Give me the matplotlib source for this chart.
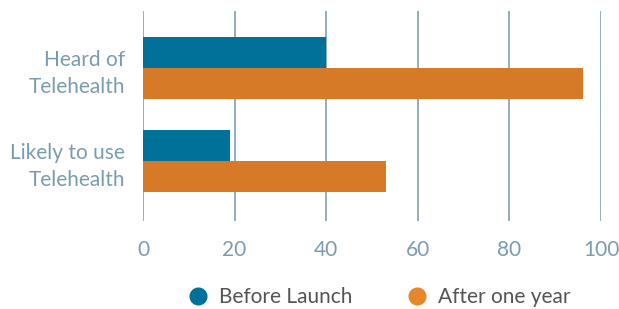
import matplotlib
matplotlib.use("Agg")
import matplotlib.pyplot as plt
import numpy as np
from matplotlib.lines import Line2D

categories = ["Heard of\nTelehealth", "Likely to use\nTelehealth"]
before_launch = [40, 19]
after_one_year = [96, 53]
series_names = ["Before Launch", "After one year"]
xticks = [0, 20, 40, 60, 80, 100]

BLUE = "#00729a"
ORANGE = "#d67a27"
ORANGE_LEG = "#e8872a"
AXIS_TXT = "#7a9cb2"
GRID = "#7f9fb4"

plt.rcParams["font.family"] = ["Lato", "DejaVu Sans"]

fig = plt.figure(figsize=(6.19, 3.09), dpi=100)
ax = fig.add_axes([0.231, 0.285, 0.740, 0.679])

y = np.arange(len(categories))[::-1]  # first category on top
h = 0.333
ax.barh(y + h / 2, before_launch, height=h, color=BLUE, zorder=3)
ax.barh(y - h / 2, after_one_year, height=h, color=ORANGE, zorder=3)

ax.set_xlim(0, 100)
ax.set_ylim(-0.645, 1.613)
ax.set_xticks(xticks)
ax.set_xticklabels([str(t) for t in xticks])
ax.set_yticks(y)
ax.set_yticklabels(categories, linespacing=1.45)
ax.tick_params(axis="both", length=0, labelsize=15, colors=AXIS_TXT)
ax.tick_params(axis="x", pad=14)
ax.tick_params(axis="y", pad=13)

ax.grid(axis="x", color=GRID, linewidth=1.2, zorder=0)
for s in ax.spines.values():
    s.set_visible(False)

handles = [Line2D([], [], marker="o", linestyle="", markersize=12, color=c)
           for c in (BLUE, ORANGE_LEG)]
fig.legend(handles, series_names, loc="center left", bbox_to_anchor=(0.273, 0.039),
           ncol=2, frameon=False, fontsize=15, labelcolor="#555555",
           handlelength=1.0, handletextpad=0.5, columnspacing=2.6)

fig.savefig("out.png", dpi=100)
